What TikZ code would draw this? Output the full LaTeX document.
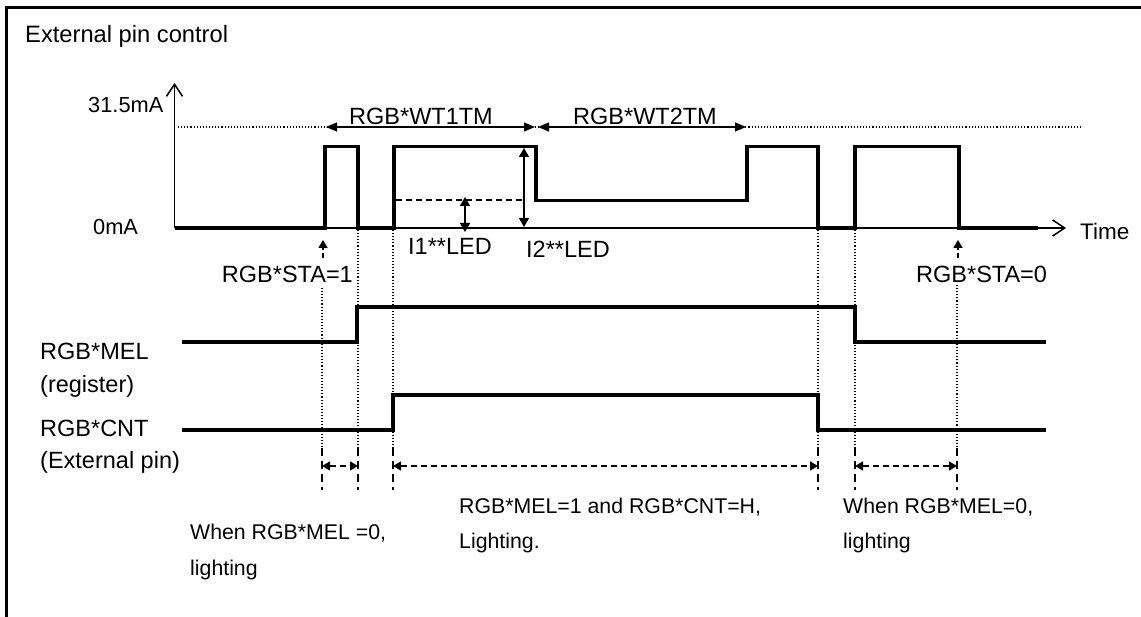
\documentclass[tikz,border=0pt]{standalone}
\usepackage{fontspec}
\setmainfont{Liberation Sans}
\usetikzlibrary{arrows.meta}
\begin{document}
\begin{tikzpicture}[x=1pt,y=-1pt,
  lbl/.style={inner sep=0pt, font=\fontsize{23.5}{26}\selectfont},
  sm/.style={inner sep=0pt, font=\fontsize{21.3}{24}\selectfont, anchor=base west},
  wave/.style={line width=3.3pt, line join=miter},
  thinl/.style={line width=1.5pt},
  dots/.style={line width=1.1pt, dash pattern=on 1.1pt off 2pt},
  dsh/.style={line width=1.4pt, dash pattern=on 6pt off 4pt},
  dimtip/.style={line width=1.2pt, {Triangle[length=11pt,width=9pt]}-{Triangle[length=11pt,width=9pt]}},
  btip/.style={dsh, {Triangle[length=8pt,width=9pt]}-{Triangle[length=8pt,width=9pt]}},
  itip/.style={line width=1.6pt, {Triangle[length=9pt,width=10pt]}-{Triangle[length=9pt,width=10pt]}},
  stip/.style={line width=1.4pt, dash pattern=on 5pt off 3pt, -{Triangle[length=8pt,width=9pt]}},
  axtip/.style={thinl, -{Straight Barb[length=12pt,width=16pt]}}
]
\useasboundingbox (0,0) rectangle (1141,617);
% frame
\draw[line width=2.4pt] (6.5,617) -- (6.5,7.5) -- (1141,7.5);
\node[lbl, anchor=base west, font=\fontsize{23.7}{26}\selectfont] (title) at (25,43) {External pin control};

% current axes
\coordinate (org) at (174.5,228);
\coordinate (ytop) at (174.5,83);
\coordinate (xend) at (1066,228);
\draw[axtip] (org) -- (ytop);
\draw[axtip] (org) -- (xend);
\node[lbl, anchor=base west, font=\fontsize{21.8}{24}\selectfont] (imax) at (88,113) {31.5mA};
\node[lbl, anchor=base west, font=\fontsize{21.8}{24}\selectfont] (izero) at (93,235) {0mA};
\node[lbl, anchor=base west, font=\fontsize{22.5}{24}\selectfont] (time) at (1080,240) {Time};

% 31.5mA dotted level
\draw[dots] (178,127) -- (1083,127);
\draw[dimtip] (326,127) -- (535,127);
\draw[dimtip] (538,127) -- (746,127);
\node[lbl, anchor=base] (wt1) at (421,125) {RGB*WT1TM};
\node[lbl, anchor=base] (wt2) at (645,125) {RGB*WT2TM};

% waveform
\draw[wave] (org) -- (325,228) -- (325,146.5) -- (358,146.5) -- (358,228) -- (394,228)
  -- (394,146.5) -- (536,146.5) -- (536,200.5) -- (747,200.5) -- (747,146.5) -- (818,146.5)
  -- (818,228) -- (855,228) -- (855,146.5) -- (959,146.5) -- (959,228) -- (1038,228);
\draw[line width=2.8pt, dash pattern=on 6pt off 4pt] (327,228) -- (358,228);
\draw[line width=2.8pt, dash pattern=on 7pt off 4pt] (396,228) -- (537,228);

% I1 / I2
\draw[dsh] (396,200) -- (524,200);
\draw[itip] (465,197) -- (465,232);
\draw[itip] (524,148) -- (524,227);
\node[lbl, anchor=base west] (i1) at (408,255) {I1**LED};
\node[lbl, anchor=base west] (i2) at (526,258) {I2**LED};

% STA arrows
\draw[stip] (323,258) -- (323,240);
\draw[stip] (958,258) -- (958,240);
\node[lbl, anchor=base east] (sta1) at (353,283) {RGB*STA=1};
\node[lbl, anchor=base west] (sta0) at (916,283) {RGB*STA=0};

% vertical guides
\draw[dots] (322,288) -- (322,448);
\draw[dots] (358,230) -- (358,448);
\draw[dots] (393,230) -- (393,448);
\draw[dots] (818,230) -- (818,448);
\draw[dots] (855,230) -- (855,448);
\draw[dots] (957,285) -- (957,448);
\foreach \xx in {322,358,393,818,855,957}
  \draw[line width=1.4pt, dash pattern=on 8pt off 5pt] (\xx,448) -- (\xx,490);

% signals
\node[lbl, anchor=base west] (mel) at (40,360) {RGB*MEL};
\node[lbl, anchor=base west] (reg) at (40,393) {(register)};
\node[lbl, anchor=base west] (cnt) at (40,437) {RGB*CNT};
\node[lbl, anchor=base west] (ext) at (40,468) {(External pin)};
\draw[wave] (182,342) -- (357,342) -- (357,307) -- (855,307) -- (855,342) -- (1046,342);
\draw[wave] (182,430) -- (393,430) -- (393,395) -- (818,395) -- (818,430) -- (1046,430);

% bottom dimension arrows
\draw[btip] (322,466) -- (358,466);
\draw[btip] (393,466) -- (818,466);
\draw[btip] (855,466) -- (957,466);

\node[sm] (t1a) at (190,539) {When RGB*MEL =0,};
\node[sm] (t1b) at (190,575) {lighting};
\node[sm] (t2a) at (459,513) {RGB*MEL=1 and RGB*CNT=H,};
\node[sm] (t2b) at (459,548) {Lighting.};
\node[sm] (t3a) at (843,513) {When RGB*MEL=0,};
\node[sm] (t3b) at (843,548) {lighting};
\end{tikzpicture}
\end{document}
